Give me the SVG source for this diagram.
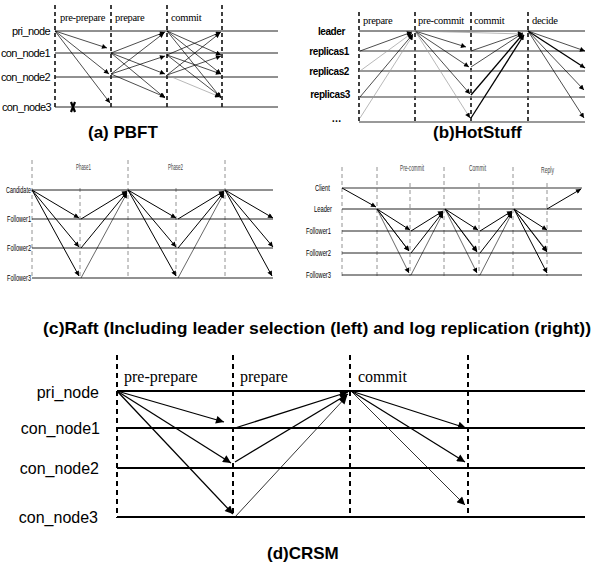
<svg xmlns="http://www.w3.org/2000/svg" width="596" height="568" viewBox="0 0 596 568">
<style>
.bg{fill:#fff}
.dash{stroke:#000;stroke-width:1.5;stroke-dasharray:4 3;fill:none}
.dashg{stroke:#777;stroke-width:0.8;stroke-dasharray:4 3;fill:none}
.dashL{stroke:#000;stroke-width:2;stroke-dasharray:5 4;fill:none}
.lane{stroke:#222;stroke-width:1;fill:none}
.laneg{stroke:#777;stroke-width:1.3;fill:none}
.laneL{stroke:#000;stroke-width:2;fill:none}
.a{stroke:#000;stroke-width:0.7;fill:none;marker-end:url(#as)}
.ag{stroke:#999;stroke-width:0.7;fill:none;marker-end:url(#as)}
.ab{stroke:#000;stroke-width:1.3;fill:none;marker-end:url(#as)}
.ar{stroke:#000;stroke-width:1;fill:none;marker-end:url(#am)}
.art{stroke:#000;stroke-width:0.6;fill:none;marker-end:url(#am)}
.ac{stroke:#000;stroke-width:1.3;fill:none;marker-end:url(#al)}
.act{stroke:#000;stroke-width:0.8;fill:none;marker-end:url(#al)}
.nl{font-family:"Liberation Sans",Arial,sans-serif;font-size:11px;text-anchor:end;letter-spacing:-0.6px}
.hl{font-family:"Liberation Sans",Arial,sans-serif;font-size:10px;font-weight:bold;text-anchor:end;letter-spacing:-0.4px}
.ph{font-family:"Liberation Serif","Times New Roman",serif;font-size:10.5px;letter-spacing:-0.3px}
.rl{font-family:"Liberation Sans",Arial,sans-serif;font-size:9px;text-anchor:end}
.rp{font-family:"Liberation Sans",Arial,sans-serif;font-size:9px;fill:#444}
.title{font-family:"Liberation Sans",Arial,sans-serif;font-weight:bold;font-size:17px}
.cl{font-family:"Liberation Sans",Arial,sans-serif;font-size:16px;text-anchor:end}
.cp{font-family:"Liberation Serif","Times New Roman",serif;font-size:16px}
</style>
<defs>
<marker id="as" viewBox="0 0 10 10" refX="10" refY="5" markerUnits="userSpaceOnUse" markerWidth="6" markerHeight="5" orient="auto"><path d="M0,0 L10,5 L0,10 z" fill="#000"/></marker>
<marker id="am" viewBox="0 0 10 10" refX="10" refY="5" markerUnits="userSpaceOnUse" markerWidth="8" markerHeight="5" orient="auto"><path d="M0,0 L10,5 L0,10 z" fill="#000"/></marker>
<marker id="al" viewBox="0 0 10 10" refX="10" refY="5" markerUnits="userSpaceOnUse" markerWidth="11" markerHeight="8" orient="auto"><path d="M0,0 L10,5 L0,10 z" fill="#000"/></marker>
</defs>
<rect class="bg" x="0" y="0" width="596" height="568"/>

<!-- (a) PBFT -->
<g id="pbft">
  <g id="pbft-phases">
    <line class="dash" x1="55" y1="5" x2="55" y2="108"/>
    <line class="dash" x1="111" y1="5" x2="111" y2="108"/>
    <line class="dash" x1="167" y1="5" x2="167" y2="108"/>
    <line class="dash" x1="222" y1="5" x2="222" y2="108"/>
    <text class="ph" x="60" y="21">pre-prepare</text>
    <text class="ph" x="115" y="21">prepare</text>
    <text class="ph" x="171" y="21">commit</text>
  </g>
  <g id="pbft-pri_node"><line class="lane" x1="55" y1="31" x2="278" y2="31"/><text class="nl" x="50" y="35">pri_node</text></g>
  <g id="pbft-con_node1"><line class="lane" x1="55" y1="53" x2="278" y2="53"/><text class="nl" x="50" y="57">con_node1</text></g>
  <g id="pbft-con_node2"><line class="lane" x1="55" y1="77" x2="278" y2="77"/><text class="nl" x="50" y="81">con_node2</text></g>
  <g id="pbft-con_node3"><line class="lane" x1="55" y1="107" x2="278" y2="107"/><text class="nl" x="51" y="111">con_node3</text>
    <path d="M71,102 L75,112 M75,102 L71,112" stroke="#000" stroke-width="2.2" fill="none"/></g>
  <g id="pbft-connectors">
    <line class="a" x1="55" y1="31" x2="107" y2="48"/>
    <line class="a" x1="55" y1="31" x2="109" y2="74"/>
    <line class="a" x1="55" y1="31" x2="110" y2="103"/>
    <line class="a" x1="111" y1="53" x2="165" y2="32"/>
    <line class="a" x1="111" y1="53" x2="165" y2="74"/>
    <line class="a" x1="111" y1="53" x2="165" y2="98"/>
    <line class="a" x1="111" y1="74" x2="164" y2="33"/>
    <line class="a" x1="111" y1="74" x2="165" y2="56"/>
    <line class="a" x1="111" y1="74" x2="165" y2="97"/>
    <line class="a" x1="167" y1="31" x2="221" y2="55"/>
    <line class="a" x1="167" y1="31" x2="221" y2="74"/>
    <line class="a" x1="167" y1="31" x2="221" y2="98"/>
    <line class="a" x1="167" y1="55" x2="221" y2="32"/>
    <line class="a" x1="167" y1="55" x2="221" y2="74"/>
    <line class="a" x1="167" y1="55" x2="221" y2="97"/>
    <line class="a" x1="167" y1="75" x2="220" y2="33"/>
    <line class="a" x1="167" y1="75" x2="221" y2="56"/>
    <line class="ag" x1="167" y1="75" x2="220" y2="97"/>
  </g>
  <text class="title" x="88" y="138">(a) PBFT</text>
</g>

<!-- (b) HotStuff -->
<g id="hotstuff">
  <g id="hs-phases">
    <line class="dash" x1="359" y1="12" x2="359" y2="122"/>
    <line class="dash" x1="415" y1="12" x2="415" y2="122"/>
    <line class="dash" x1="471" y1="12" x2="471" y2="122"/>
    <line class="dash" x1="528" y1="12" x2="528" y2="122"/>
    <text class="ph" x="363" y="24">prepare</text>
    <text class="ph" x="418" y="24">pre-commit</text>
    <text class="ph" x="474" y="24">commit</text>
    <text class="ph" x="532" y="24">decide</text>
  </g>
  <g id="hs-leader"><line class="lane" x1="359" y1="31" x2="585" y2="31"/><text class="hl" x="345" y="35">leader</text></g>
  <g id="hs-replicas1"><line class="laneg" x1="359" y1="51" x2="585" y2="51"/><text class="hl" x="349" y="55">replicas1</text></g>
  <g id="hs-replicas2"><line class="laneg" x1="359" y1="71" x2="585" y2="71"/><text class="hl" x="349" y="75">replicas2</text></g>
  <g id="hs-replicas3"><line class="laneg" x1="359" y1="97" x2="585" y2="97"/><text class="hl" x="350" y="98">replicas3</text></g>
  <g id="hs-more"><line class="laneg" x1="359" y1="122" x2="585" y2="122"/><text class="hl" x="341" y="122">…</text></g>
  <g id="hs-connectors">
    <line class="a" x1="360" y1="51" x2="412" y2="32"/>
    <line class="ag" x1="360" y1="71" x2="412" y2="33"/>
    <line class="a" x1="360" y1="97" x2="413" y2="34"/>
    <line class="ag" x1="360" y1="118" x2="413" y2="35"/>
    <line class="a" x1="415" y1="31" x2="466" y2="47"/>
    <line class="a" x1="415" y1="31" x2="469" y2="67"/>
    <line class="a" x1="415" y1="31" x2="470" y2="94"/>
    <line class="ag" x1="415" y1="31" x2="470" y2="118"/>
    <line class="a" x1="471" y1="51" x2="523" y2="33"/>
    <line class="a" x1="471" y1="67" x2="523" y2="33"/>
    <line class="ab" x1="471" y1="95" x2="523" y2="34"/>
    <line class="ab" x1="471" y1="118" x2="524" y2="35"/>
    <line class="ag" x1="415" y1="31" x2="523" y2="34"/>
    <line class="a" x1="528" y1="31" x2="585" y2="51"/>
    <line class="ab" x1="528" y1="31" x2="585" y2="68"/>
    <line class="a" x1="528" y1="31" x2="584" y2="90"/>
    <line class="a" x1="528" y1="31" x2="584" y2="118"/>
  </g>
  <text class="title" x="433" y="138">(b)HotStuff</text>
</g>

<!-- (c) Raft left: leader selection -->
<g id="raft-election">
  <g id="re-phases">
    <line class="dashg" x1="32" y1="160" x2="32" y2="278"/>
    <line class="dashg" x1="80" y1="188" x2="80" y2="278"/>
    <line class="dashg" x1="128" y1="160" x2="128" y2="278"/>
    <line class="dashg" x1="176" y1="188" x2="176" y2="278"/>
    <line class="dashg" x1="225" y1="160" x2="225" y2="278"/>
    <text class="rp" x="76" y="170" textLength="15" lengthAdjust="spacingAndGlyphs">Phase1</text>
    <text class="rp" x="168" y="170" textLength="15" lengthAdjust="spacingAndGlyphs">Phase2</text>
  </g>
  <g id="re-candidate"><line class="lane" x1="32" y1="190" x2="273" y2="190"/><text class="rl" x="31" y="193" textLength="25" lengthAdjust="spacingAndGlyphs">Candidate</text></g>
  <g id="re-follower1"><line class="lane" x1="32" y1="219" x2="273" y2="219"/><text class="rl" x="31" y="222" textLength="24" lengthAdjust="spacingAndGlyphs">Follower1</text></g>
  <g id="re-follower2"><line class="lane" x1="32" y1="248" x2="273" y2="248"/><text class="rl" x="31" y="251" textLength="24" lengthAdjust="spacingAndGlyphs">Follower2</text></g>
  <g id="re-follower3"><line class="lane" x1="32" y1="278" x2="273" y2="278"/><text class="rl" x="31" y="281" textLength="24" lengthAdjust="spacingAndGlyphs">Follower3</text></g>
  <g id="re-connectors">
    <line class="ar" x1="32" y1="190" x2="79" y2="218"/>
    <line class="ar" x1="32" y1="190" x2="79" y2="247"/>
    <line class="ar" x1="32" y1="190" x2="79" y2="276"/>
    <line class="ar" x1="81" y1="219" x2="127" y2="191"/>
    <line class="ar" x1="81" y1="248" x2="127" y2="192"/>
    <line class="art" x1="81" y1="278" x2="127" y2="193"/>
    <line class="ar" x1="128" y1="190" x2="176" y2="218"/>
    <line class="ar" x1="128" y1="190" x2="176" y2="247"/>
    <line class="ar" x1="128" y1="190" x2="176" y2="276"/>
    <line class="ar" x1="178" y1="219" x2="224" y2="191"/>
    <line class="ar" x1="178" y1="248" x2="224" y2="192"/>
    <line class="art" x1="178" y1="278" x2="224" y2="193"/>
    <line class="ar" x1="225" y1="190" x2="273" y2="218"/>
    <line class="ar" x1="225" y1="190" x2="273" y2="247"/>
    <line class="ar" x1="225" y1="190" x2="272" y2="276"/>
  </g>
</g>

<!-- (c) Raft right: log replication -->
<g id="raft-log">
  <g id="rl-phases">
    <line class="dashg" x1="342" y1="167" x2="342" y2="276"/>
    <line class="dashg" x1="377" y1="167" x2="377" y2="276"/>
    <line class="dashg" x1="410" y1="183" x2="410" y2="276"/>
    <line class="dashg" x1="444" y1="167" x2="444" y2="276"/>
    <line class="dashg" x1="479" y1="183" x2="479" y2="276"/>
    <line class="dashg" x1="513" y1="167" x2="513" y2="276"/>
    <line class="dashg" x1="547" y1="183" x2="547" y2="276"/>
    <text class="rp" x="400" y="171" textLength="24" lengthAdjust="spacingAndGlyphs">Pre-commit</text>
    <text class="rp" x="469" y="171" textLength="17" lengthAdjust="spacingAndGlyphs">Commit</text>
    <text class="rp" x="541" y="173" textLength="13" lengthAdjust="spacingAndGlyphs">Reply</text>
  </g>
  <g id="rl-client"><line class="laneg" x1="342" y1="188" x2="582" y2="188"/><text class="rl" x="330" y="191" textLength="15" lengthAdjust="spacingAndGlyphs">Client</text></g>
  <g id="rl-leader"><line class="lane" x1="342" y1="209" x2="582" y2="209"/><text class="rl" x="332" y="212" textLength="18" lengthAdjust="spacingAndGlyphs">Leader</text></g>
  <g id="rl-follower1"><line class="lane" x1="342" y1="231" x2="582" y2="231"/><text class="rl" x="331" y="234" textLength="25" lengthAdjust="spacingAndGlyphs">Follower1</text></g>
  <g id="rl-follower2"><line class="lane" x1="342" y1="253" x2="582" y2="253"/><text class="rl" x="331" y="256" textLength="25" lengthAdjust="spacingAndGlyphs">Follower2</text></g>
  <g id="rl-follower3"><line class="lane" x1="342" y1="275" x2="582" y2="275"/><text class="rl" x="331" y="278" textLength="25" lengthAdjust="spacingAndGlyphs">Follower3</text></g>
  <g id="rl-connectors">
    <line class="ar" x1="342" y1="188" x2="376" y2="207"/>
    <line class="ar" x1="377" y1="209" x2="410" y2="230"/>
    <line class="ar" x1="377" y1="209" x2="409" y2="251"/>
    <line class="art" x1="377" y1="209" x2="409" y2="273"/>
    <line class="art" x1="377" y1="209" x2="409" y2="251"/>
    <line class="ar" x1="411" y1="231" x2="443" y2="211"/>
    <line class="ar" x1="411" y1="253" x2="443" y2="212"/>
    <line class="art" x1="411" y1="275" x2="443" y2="213"/>
    <line class="ar" x1="445" y1="209" x2="478" y2="230"/>
    <line class="ar" x1="445" y1="209" x2="477" y2="252"/>
    <line class="art" x1="445" y1="209" x2="477" y2="273"/>
    <line class="art" x1="445" y1="209" x2="477" y2="251"/>
    <line class="ar" x1="480" y1="231" x2="512" y2="211"/>
    <line class="ar" x1="480" y1="253" x2="512" y2="212"/>
    <line class="art" x1="480" y1="275" x2="512" y2="213"/>
    <line class="ar" x1="514" y1="209" x2="547" y2="230"/>
    <line class="ar" x1="514" y1="209" x2="547" y2="252"/>
    <line class="ar" x1="514" y1="209" x2="547" y2="273"/>
    <line class="art" x1="514" y1="209" x2="547" y2="251"/>
    <line class="ar" x1="547" y1="209" x2="581" y2="189"/>
  </g>
</g>
<text class="title" x="43" y="334" font-size="15" textLength="548" lengthAdjust="spacingAndGlyphs">(c)Raft (Including leader selection (left) and log replication (right))</text>

<!-- (d) CRSM -->
<g id="crsm">
  <g id="crsm-phases">
    <line class="dashL" x1="117" y1="355" x2="117" y2="518"/>
    <line class="dashL" x1="233" y1="355" x2="233" y2="518"/>
    <line class="dashL" x1="350" y1="355" x2="350" y2="518"/>
    <line class="dashL" x1="468" y1="355" x2="468" y2="518"/>
    <text class="cp" x="124" y="382">pre-prepare</text>
    <text class="cp" x="240" y="382">prepare</text>
    <text class="cp" x="358" y="382">commit</text>
  </g>
  <g id="crsm-pri_node"><line class="laneL" x1="117" y1="391" x2="585" y2="391"/><text class="cl" x="99" y="398">pri_node</text></g>
  <g id="crsm-con_node1"><line class="laneL" x1="117" y1="428" x2="585" y2="428"/><text class="cl" x="100" y="434">con_node1</text></g>
  <g id="crsm-con_node2"><line class="laneL" x1="117" y1="468" x2="585" y2="468"/><text class="cl" x="99" y="474">con_node2</text></g>
  <g id="crsm-con_node3"><line class="laneL" x1="117" y1="517" x2="585" y2="517"/><text class="cl" x="98" y="523">con_node3</text></g>
  <g id="crsm-connectors">
    <line class="ac" x1="117" y1="391" x2="224" y2="422"/>
    <line class="ac" x1="117" y1="391" x2="231" y2="463"/>
    <line class="ac" x1="117" y1="391" x2="233" y2="514"/>
    <line class="ac" x1="235" y1="428" x2="348" y2="392"/>
    <line class="ac" x1="235" y1="462" x2="348" y2="394"/>
    <line class="act" x1="235" y1="517" x2="347" y2="396"/>
    <line class="ac" x1="351" y1="391" x2="466" y2="428"/>
    <line class="ac" x1="351" y1="391" x2="465" y2="462"/>
    <line class="act" x1="351" y1="391" x2="465" y2="505"/>
  </g>
  <text class="title" x="267" y="559">(d)CRSM</text>
</g>
</svg>
